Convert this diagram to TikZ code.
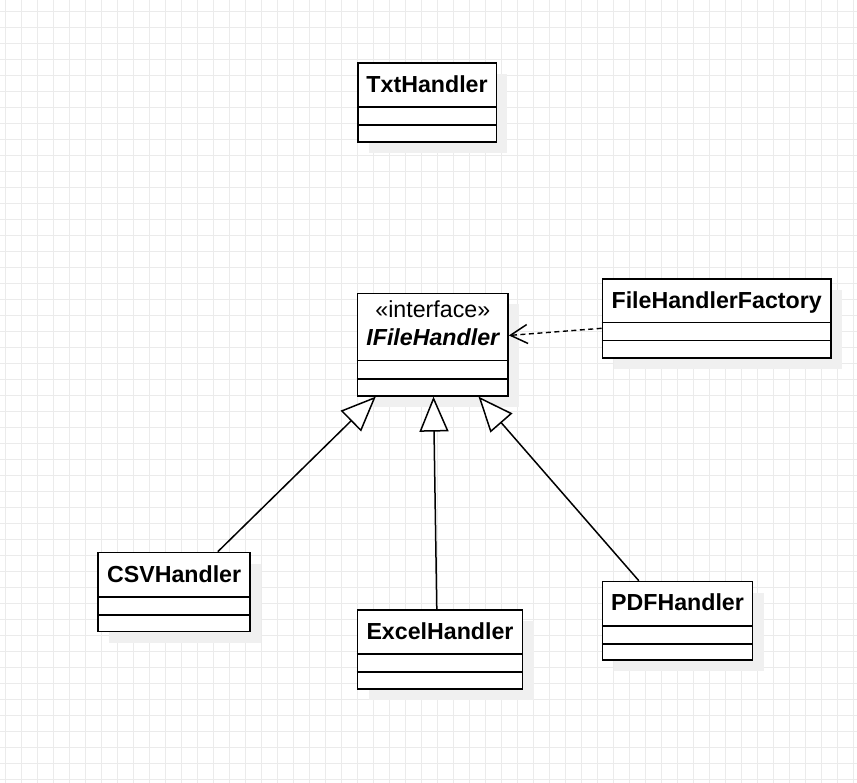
\documentclass[tikz,border=0pt]{standalone}
\usepackage{fontspec}
\setmainfont{Liberation Sans}
\usetikzlibrary{arrows.meta,shadows}
\begin{document}
\begin{tikzpicture}[x=1pt,y=-1pt,
  classbox/.style={draw=black, line width=1.6pt, fill=white, anchor=north west, inner sep=0pt,
    minimum height=79pt,
    drop shadow={shadow xshift=11pt,shadow yshift=-11pt,fill=black!6,opacity=1}},
  title/.style={anchor=base, font=\fontsize{23.2}{27}\selectfont\bfseries, inner sep=0pt},
  stereo/.style={anchor=base, font=\fontsize{23.2}{27}\selectfont, inner sep=0pt},
  divider/.style={line width=1.6pt},
  inherit/.style={line width=1.5pt, line join=miter, -{Triangle[length=35pt,width=29pt,fill=white]}},
  depend/.style={line width=1.4pt, dash pattern=on 5pt off 3.5pt, -{Straight Barb[length=17pt,width=19pt,line width=1.5pt]}},
  gridline/.style={line width=1pt, draw=black!8}
]
\useasboundingbox (0,0) rectangle (857,783);
\fill[white] (0,0) rectangle (857,783);
\foreach \x in {5.3,21.3,...,857} \draw[gridline] (\x,0) -- (\x,783);
\foreach \y in {11.5,27.5,...,783} \draw[gridline] (0,\y) -- (857,\y);

% TxtHandler
\node[classbox, minimum width=138.5pt] (txt) at (357,62) {};
\draw[divider] ([yshift=-45pt]txt.north west) -- ([yshift=-45pt]txt.north east);
\draw[divider] ([yshift=-63pt]txt.north west) -- ([yshift=-63pt]txt.north east);
\node[title] (txtT) at ([yshift=-30.8pt]txt.north) {TxtHandler};

% IFileHandler
\node[classbox, minimum width=150.6pt, minimum height=102.3pt] (ifh) at (356.7,292.7) {};
\draw[divider] ([yshift=-68pt]ifh.north west) -- ([yshift=-68pt]ifh.north east);
\draw[divider] ([yshift=-86.3pt]ifh.north west) -- ([yshift=-86.3pt]ifh.north east);
\node[stereo] (ifhS) at ([yshift=-25pt]ifh.north) {«interface»};
\node[title, font=\fontsize{23.2}{27}\selectfont\bfseries\itshape] (ifhT) at ([yshift=-53pt]ifh.north) {IFileHandler};

% FileHandlerFactory
\node[classbox, minimum width=228.3pt] (fhf) at (601.7,278.3) {};
\draw[divider] ([yshift=-44.4pt]fhf.north west) -- ([yshift=-44.4pt]fhf.north east);
\draw[divider] ([yshift=-62.4pt]fhf.north west) -- ([yshift=-62.4pt]fhf.north east);
\node[title] (fhfT) at ([yshift=-30.3pt]fhf.north) {FileHandlerFactory};

% CSVHandler
\node[classbox, minimum width=152pt] (csv) at (97.3,551.7) {};
\draw[divider] ([yshift=-45pt]csv.north west) -- ([yshift=-45pt]csv.north east);
\draw[divider] ([yshift=-63.3pt]csv.north west) -- ([yshift=-63.3pt]csv.north east);
\node[title] (csvT) at ([yshift=-30.7pt]csv.north) {CSVHandler};

% ExcelHandler
\node[classbox, minimum width=165pt] (ex) at (356.7,609.3) {};
\draw[divider] ([yshift=-44.7pt]ex.north west) -- ([yshift=-44.7pt]ex.north east);
\draw[divider] ([yshift=-62.7pt]ex.north west) -- ([yshift=-62.7pt]ex.north east);
\node[title] (exT) at ([yshift=-30.5pt]ex.north) {ExcelHandler};

% PDFHandler
\node[classbox, minimum width=150pt, minimum height=78.6pt] (pdf) at (601.7,580.7) {};
\draw[divider] ([yshift=-45.3pt]pdf.north west) -- ([yshift=-45.3pt]pdf.north east);
\draw[divider] ([yshift=-63.3pt]pdf.north west) -- ([yshift=-63.3pt]pdf.north east);
\node[title] (pdfT) at ([yshift=-30pt]pdf.north) {PDFHandler};

% connectors
\draw[inherit] ([xshift=43.7pt]csv.north) -- ([xshift=-57pt]ifh.south);
\draw[inherit] ([xshift=-3.2pt]ex.north) -- ([xshift=0.7pt]ifh.south);
\draw[inherit] ([xshift=-38.7pt]pdf.north) -- ([xshift=45.7pt]ifh.south);
\draw[depend] ([yshift=-9.7pt]fhf.west) -- ([yshift=9.2pt]ifh.east);
\end{tikzpicture}
\end{document}
